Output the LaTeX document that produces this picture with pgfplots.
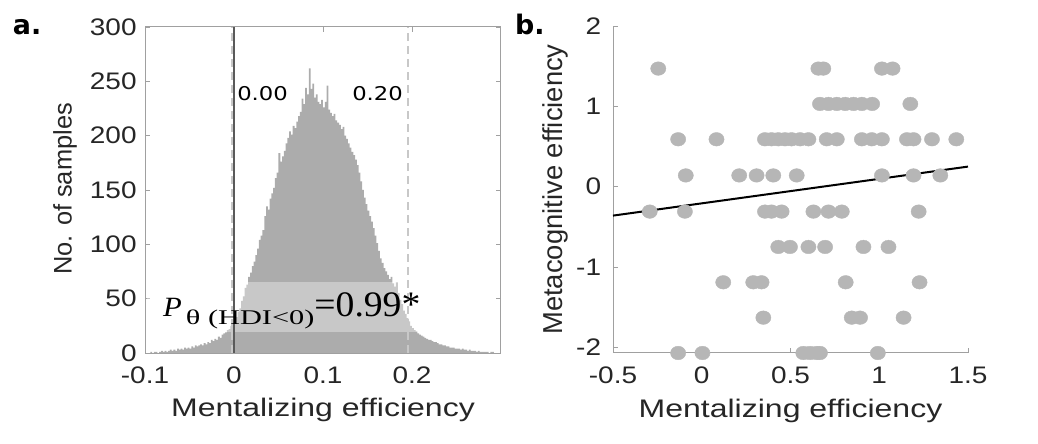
\documentclass[border=0pt]{standalone}
\usepackage{pgfplots}
\pgfplotsset{compat=1.18}
\usepackage{fontspec}
\usepackage{graphicx}
\setmainfont{Liberation Sans}
\newfontfamily\dejavu{DejaVu Sans}
\newfontfamily\serifP{Liberation Serif}
\definecolor{histgray}{RGB}{172,172,172}
\definecolor{ptgray}{RGB}{182,182,182}
\definecolor{axgray}{RGB}{160,160,160}
\definecolor{txt}{RGB}{38,38,38}
\definecolor{dashgray}{RGB}{200,200,200}
\definecolor{zeroline}{RGB}{90,90,90}
\newcommand\tickfont{\fontsize{24}{25}\selectfont}
\newcommand\labfont{\fontsize{25.5}{26}\selectfont}

\begin{document}
\begin{tikzpicture}
\path[use as bounding box] (0,0) rectangle (1038bp,444bp);
\pgfplotsset{
  common/.style={scale only axis, anchor=south west, tick align=inside, major tick length=5bp,
    every tick/.style={axgray, line width=0.8bp},
    axis line style={-, axgray, line width=1bp},
    xticklabel style={font=\tickfont, text=txt, inner sep=0pt, anchor=north, yshift=-14bp, xscale=1.17},
    yticklabel style={font=\tickfont, text=txt, inner sep=0pt, anchor=east, xscale=1.17},
    xlabel style={font=\labfont, text=txt, inner sep=0pt, anchor=base, xscale=1.26},
    ylabel style={font=\labfont, text=txt, inner sep=0pt, anchor=base},
  }
}
% ---------------- panel a ----------------
\begin{axis}[common, at={(145bp,91bp)}, width=356bp, height=326bp,
  xmin=-0.1, xmax=0.3, ymin=0, ymax=300,
  tick pos=both,
  xtick={-0.1,0,0.1,0.2}, xticklabels={-0.1,0,0.1,0.2},
  ytick={0,50,100,150,200,250,300}, yticklabels={0,50,100,150,200,250,300},
  yticklabel style={xshift=-7bp},
  xlabel={Mentalizing efficiency}, xlabel style={at={(axis description cs:0.5,-0.196)}},
  ylabel={No. of samples}, ylabel style={at={(axis description cs:-0.206,0.503)}},
]
\addplot[ybar interval, fill=histgray, draw=none] coordinates {
(-0.096,0) (-0.094,1) (-0.092,0) (-0.090,1) (-0.088,1) (-0.086,0) (-0.084,1) (-0.082,2)
(-0.080,1) (-0.078,2) (-0.076,1) (-0.074,2) (-0.072,3) (-0.070,2) (-0.068,3) (-0.066,2)
(-0.064,4) (-0.062,3) (-0.060,4) (-0.058,3) (-0.056,5) (-0.054,4) (-0.052,5) (-0.050,4)
(-0.048,6) (-0.046,5) (-0.044,7) (-0.042,6) (-0.040,7) (-0.038,8) (-0.036,7) (-0.034,9)
(-0.032,8) (-0.030,10) (-0.028,9) (-0.026,12) (-0.024,11) (-0.022,13) (-0.020,12) (-0.018,15)
(-0.016,14) (-0.014,17) (-0.012,18) (-0.010,19) (-0.008,21) (-0.006,22) (-0.004,25) (-0.002,26)
(0.000,29) (0.002,33) (0.004,38) (0.006,41) (0.008,48) (0.010,52) (0.012,60) (0.014,63)
(0.016,70) (0.018,74) (0.020,80) (0.022,84) (0.024,90) (0.026,96) (0.028,104) (0.030,108)
(0.032,113) (0.034,126) (0.036,135) (0.038,132) (0.040,142) (0.042,147) (0.044,152) (0.046,161)
(0.048,166) (0.050,184) (0.052,176) (0.054,181) (0.056,186) (0.058,193) (0.060,198) (0.062,204)
(0.064,201) (0.066,209) (0.068,207) (0.070,213) (0.072,218) (0.074,222) (0.076,234) (0.078,229)
(0.080,244) (0.082,238) (0.084,262) (0.086,243) (0.088,248) (0.090,235) (0.092,238) (0.094,231)
(0.096,229) (0.098,233) (0.100,226) (0.102,231) (0.104,246) (0.106,224) (0.108,221) (0.110,218)
(0.112,220) (0.114,214) (0.116,212) (0.118,210) (0.120,206) (0.122,208) (0.124,200) (0.126,197)
(0.128,193) (0.130,189) (0.132,185) (0.134,182) (0.136,178) (0.138,173) (0.140,166) (0.142,158)
(0.144,150) (0.146,143) (0.148,137) (0.150,131) (0.152,126) (0.154,121) (0.156,115) (0.158,108)
(0.160,101) (0.162,94) (0.164,87) (0.166,83) (0.168,78) (0.170,75) (0.172,72) (0.174,68)
(0.176,70) (0.178,64) (0.180,61) (0.182,65) (0.184,55) (0.186,49) (0.188,45) (0.190,39)
(0.192,36) (0.194,32) (0.196,29) (0.198,25) (0.200,23) (0.202,21) (0.204,20) (0.206,18)
(0.208,17) (0.210,16) (0.212,15) (0.214,14) (0.216,13) (0.218,12) (0.220,12) (0.222,11)
(0.224,10) (0.226,10) (0.228,9) (0.230,8) (0.232,8) (0.234,7) (0.236,7) (0.238,6)
(0.240,6) (0.242,5) (0.244,5) (0.246,5) (0.248,4) (0.250,4) (0.252,4) (0.254,3)
(0.256,4) (0.258,3) (0.260,3) (0.262,2) (0.264,3) (0.266,2) (0.268,2) (0.270,2)
(0.272,1) (0.274,2) (0.276,1) (0.278,1) (0.280,1) (0.282,1) (0.284,1) (0.286,0)
(0.288,1) (0.290,1) (0.292,0) (0.294,0) (0.296,0)
};
\fill[white, opacity=0.35] (axis cs:-0.098,19.3) rectangle (axis cs:0.26,65.3);
\addplot[dashgray, line width=2bp, dash pattern=on 8bp off 5bp] coordinates {(-0.002,0) (-0.002,300)};
\addplot[dashgray, line width=2bp, dash pattern=on 8bp off 5bp] coordinates {(0.196,0) (0.196,300)};
\addplot[zeroline, line width=1.3bp] coordinates {(0,0) (0,300)};
\node[anchor=base west, inner sep=0pt, xscale=1.2, text=black] at (axis cs:0.0034,232) {\dejavu\fontsize{19}{19}\selectfont 0.00};
\node[anchor=base west, inner sep=0pt, xscale=1.2, text=black] at (axis cs:0.1326,232) {\dejavu\fontsize{19}{19}\selectfont 0.20};
\node[anchor=base west, inner sep=0pt, text=black] at (axis cs:-0.0798,33.4) {\serifP\scalebox{1.1}[1]{\fontsize{28}{28}\selectfont\itshape P}\hspace{4bp}\raisebox{-7.5bp}{\scalebox{1.45}[1]{\fontsize{21}{21}\selectfont θ (HDI<0)}}\scalebox{1.05}[1]{\fontsize{36}{36}\selectfont =0.99*}};
\end{axis}
% ---------------- panel b ----------------
\begin{axis}[common, at={(613bp,91bp)}, width=355bp, height=327bp,
  xmin=-0.5, xmax=1.5, ymin=-2.07, ymax=2,
  axis x line*=bottom, axis y line*=left, clip=false,
  xtick={-0.5,0,0.5,1,1.5}, xticklabels={-0.5,0,0.5,1,1.5},
  ytick={-2,-1,0,1,2}, yticklabels={-2,-1,0,1,2},
  yticklabel style={xshift=-10bp},
  xlabel={Mentalizing efficiency}, xlabel style={at={(axis description cs:0.5,-0.196)}},
  ylabel={Metacognitive efficiency}, ylabel style={at={(axis description cs:-0.141,0.5)}, font=\fontsize{27.5}{28}\selectfont},
]
\addplot[only marks, mark=*, color=ptgray, mark size=6.8bp, mark options={xscale=1.12}] table {
x y
-0.245 1.47
0.657 1.47
0.685 1.47
1.015 1.47
1.075 1.47
0.666 1.03
0.714 1.03
0.761 1.03
0.808 1.03
0.855 1.03
0.902 1.03
0.960 1.03
1.175 1.03
-0.133 0.59
0.083 0.59
0.356 0.59
0.393 0.59
0.431 0.59
0.469 0.59
0.506 0.59
0.554 0.59
0.601 0.59
0.704 0.59
0.761 0.59
0.902 0.59
0.958 0.59
1.015 0.59
1.156 0.59
1.193 0.59
1.297 0.59
1.434 0.59
-0.090 0.14
0.211 0.14
0.309 0.14
0.403 0.14
0.535 0.14
1.015 0.14
1.193 0.14
1.344 0.14
-0.293 -0.31
-0.095 -0.31
0.356 -0.31
0.393 -0.31
0.450 -0.31
0.629 -0.31
0.714 -0.31
0.789 -0.31
1.222 -0.31
0.431 -0.75
0.497 -0.75
0.601 -0.75
0.695 -0.75
0.911 -0.75
1.052 -0.75
0.121 -1.19
0.290 -1.19
0.337 -1.19
0.811 -1.19
1.227 -1.19
0.347 -1.63
0.845 -1.63
0.892 -1.63
1.137 -1.63
-0.133 -2.07
0.004 -2.07
0.572 -2.07
0.610 -2.07
0.648 -2.07
0.666 -2.07
0.992 -2.07
};
\addplot[black, line width=2bp] coordinates {(-0.5,-0.36) (1.5,0.25)};
\end{axis}
\node[anchor=base west, inner sep=0pt, text=black] at (12.7bp,409.7bp) {\dejavu\bfseries\fontsize{27}{27}\selectfont a.};
\node[anchor=base west, inner sep=0pt, text=black] at (515bp,409bp) {\dejavu\bfseries\fontsize{27}{27}\selectfont b.};
\end{tikzpicture}
\end{document}
